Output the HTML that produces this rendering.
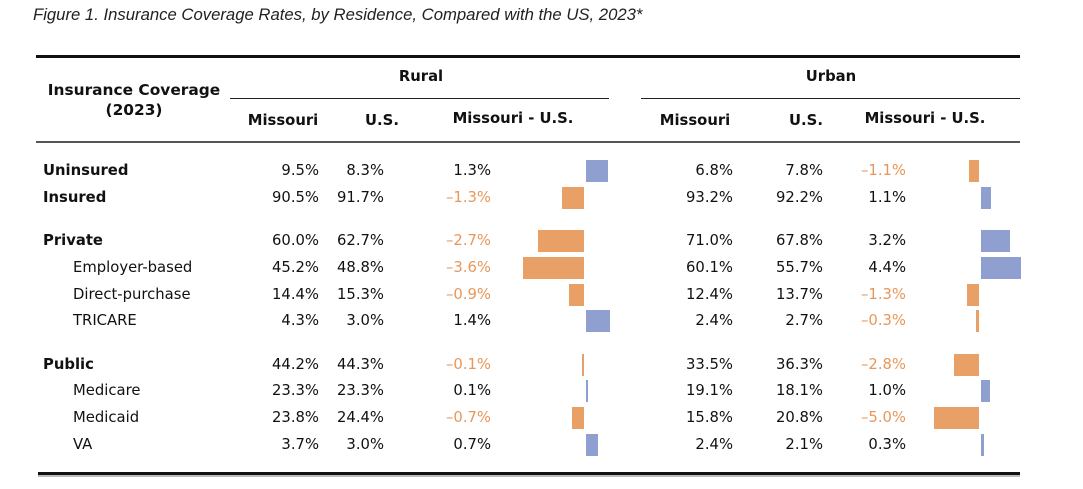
<!DOCTYPE html>
<html><head><meta charset="utf-8">
<style>
body{margin:0;background:#fff;width:1083px;height:489px;overflow:hidden;position:relative;font-family:"DejaVu Sans","Liberation Sans",sans-serif;color:#111}
.t{position:absolute;white-space:nowrap;font-size:14.8px;line-height:16px}
.b{font-weight:bold}
.r{text-align:right}
.c{text-align:center}
.neg{color:#e8975a}
.line{position:absolute}
.bar{position:absolute;height:22px}
</style></head><body>
<div class="t" style="left:33px;top:7px;font-family:'Liberation Sans',sans-serif;font-style:italic;font-size:16.7px;color:#222">Figure 1. Insurance Coverage Rates, by Residence, Compared with the US, 2023*</div>
<div class="line" style="left:36px;top:55px;width:984px;height:3px;background:#111"></div>
<div class="line" style="left:36px;top:141px;width:984px;height:2px;background:#555"></div>
<div class="line" style="left:38px;top:472px;width:982px;height:3px;background:#111"></div>
<div class="line" style="left:38px;top:475px;width:982px;height:2px;background:#bbb"></div>
<div class="line" style="left:230px;top:98px;width:379px;height:1px;background:#222"></div>
<div class="line" style="left:641px;top:98px;width:379px;height:1px;background:#222"></div>
<div class="t b c" style="left:30px;top:80px;width:208px;line-height:20px;font-size:15.4px">Insurance Coverage<br>(2023)</div>
<div class="t b c" style="left:371px;top:69px;width:100px">Rural</div>
<div class="t b c" style="left:781px;top:69px;width:100px">Urban</div>
<div class="t b c" style="left:233px;top:113px;width:100px">Missouri</div>
<div class="t b c" style="left:332px;top:113px;width:100px">U.S.</div>
<div class="t b c" style="left:438px;top:111px;width:150px">Missouri - U.S.</div>
<div class="t b c" style="left:645px;top:113px;width:100px">Missouri</div>
<div class="t b c" style="left:756px;top:113px;width:100px">U.S.</div>
<div class="t b c" style="left:850px;top:111px;width:150px">Missouri - U.S.</div>
<div id="rows"></div>
<script>
const labels=["Uninsured","Insured","Private","Employer-based","Direct-purchase","TRICARE","Public","Medicare","Medicaid","VA"];
const boldRows=[true,true,true,false,false,false,true,false,false,false];
const ruralMO=[9.5,90.5,60.0,45.2,14.4,4.3,44.2,23.3,23.8,3.7];
const ruralUS=[8.3,91.7,62.7,48.8,15.3,3.0,44.3,23.3,24.4,3.0];
const ruralDiff=[1.3,-1.3,-2.7,-3.6,-0.9,1.4,-0.1,0.1,-0.7,0.7];
const urbanMO=[6.8,93.2,71.0,60.1,12.4,2.4,33.5,19.1,15.8,2.4];
const urbanUS=[7.8,92.2,67.8,55.7,13.7,2.7,36.3,18.1,20.8,2.1];
const urbanDiff=[-1.1,1.1,3.2,4.4,-1.3,-0.3,-2.8,1.0,-5.0,0.3];
const rowY=[171,198,241,268,295,321,365,391,418,445];
const ruralX=v=>584+v*17, urbanX=v=>979+v*9;
const host=document.getElementById('rows');
function txt(s,left,w,y,cls,name){const d=document.createElement('div');d.className='t '+cls;d.textContent=s;d.style.left=left+'px';d.style.width=w+'px';d.style.top=(y-8)+'px';


host.appendChild(d);}
function bar(v,xf,y,name){const d=document.createElement('div');d.className='bar';const x0=xf(0),x1=xf(v);let l=Math.min(x0,x1),w=Math.max(Math.abs(x1-x0),1.5);if(v>0)l+=2;d.style.left=l+'px';d.style.width=w+'px';d.style.top=(y-11)+'px';d.style.background=v<0?'#e9a066':'#8f9fd0';


host.appendChild(d);}
const f=v=>(v<0?'\u2013':'')+Math.abs(v).toFixed(1)+'%';
labels.forEach((lab,i)=>{const y=rowY[i];
txt(lab,boldRows[i]?43:73,200,y,boldRows[i]?'b':'','row-label');
txt(ruralMO[i].toFixed(1)+'%',219,100,y,'r','rural-missouri-value');
txt(ruralUS[i].toFixed(1)+'%',284,100,y,'r','rural-us-value');
txt(f(ruralDiff[i]),391,100,y,'r'+(ruralDiff[i]<0?' neg':''),'rural-diff-value');
bar(ruralDiff[i],ruralX,y,'rural-diff-bar');
txt(urbanMO[i].toFixed(1)+'%',633,100,y,'r','urban-missouri-value');
txt(urbanUS[i].toFixed(1)+'%',723,100,y,'r','urban-us-value');
txt(f(urbanDiff[i]),806,100,y,'r'+(urbanDiff[i]<0?' neg':''),'urban-diff-value');
bar(urbanDiff[i],urbanX,y,'urban-diff-bar');
});
</script>
</body></html>
